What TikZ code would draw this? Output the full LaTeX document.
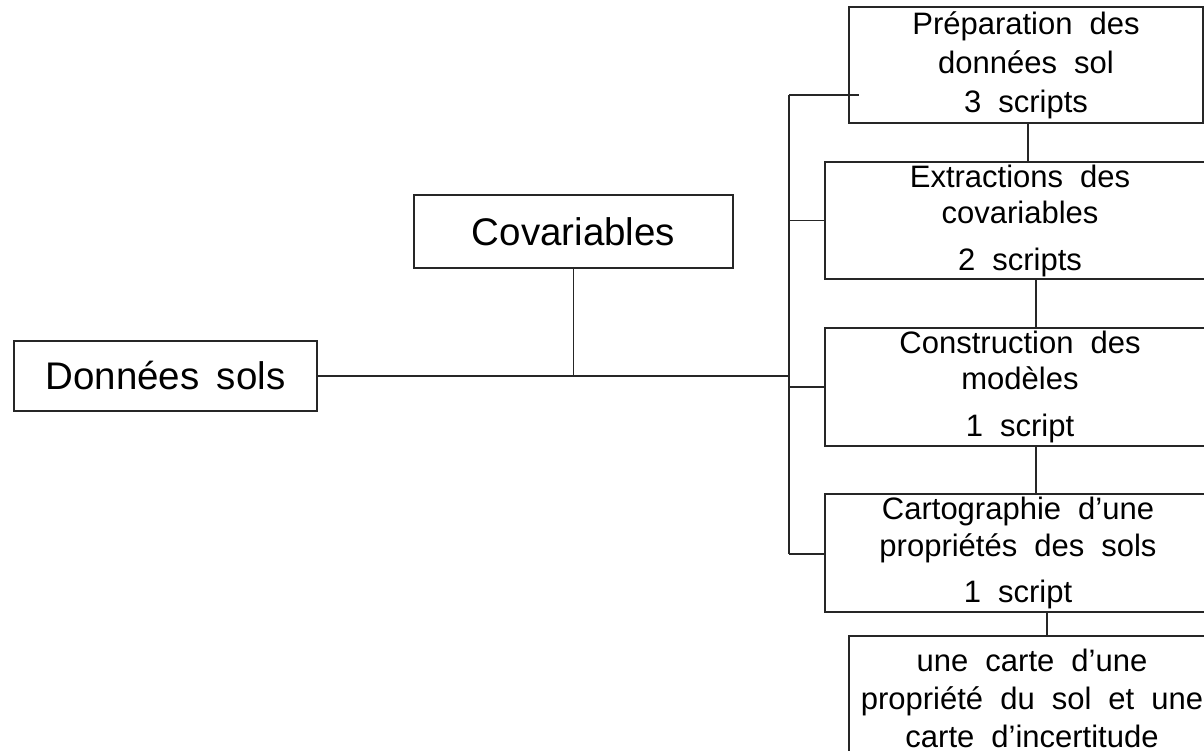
\documentclass[tikz,border=0pt]{standalone}
\usepackage{fontspec}
\setmainfont{Liberation Sans}
\newcommand\bigtxt{\fontsize{38.5}{44}\selectfont\spaceskip=0.45em plus 0.1em\relax}
\newcommand\smalltxt[1]{\fontsize{31}{#1}\selectfont\spaceskip=0.55em plus 0.1em\relax}
\tikzset{
  box/.style={draw=black!85, line width=1.6pt, rectangle, inner sep=0pt, align=center},
  conn/.style={draw=black!85, line width=1.6pt},
}
\begin{document}
\begin{tikzpicture}[x=1pt,y=-1pt]
\useasboundingbox (0,0) rectangle (1204,751);
\clip (0,0) rectangle (1204,751);
\fill[white] (0,0) rectangle (1204,751);

\node[box, minimum width=303pt, minimum height=70pt, font=\bigtxt] (don) at (165.5,376) {Données sols};
\node[box, minimum width=319pt, minimum height=73pt, font=\bigtxt] (cov) at (573.5,231.5) {Covariables};

\node[box, minimum width=354pt, minimum height=116pt, font={\smalltxt{39pt}}] (prep) at (1026,65) {Préparation des\\données sol\\3 scripts};
\node[box, minimum width=390pt, minimum height=117pt, font={\smalltxt{36pt}}] (extr) at (1020,220.5) {Extractions des\\covariables\\[11pt]2 scripts};
\node[box, minimum width=390pt, minimum height=118pt, font={\smalltxt{36pt}}] (cons) at (1020,387) {Construction des\\modèles\\[11pt]1 script};
\node[box, minimum width=386pt, minimum height=118pt, font={\smalltxt{37pt}}] (carto) at (1018,553) {Cartographie d’une\\propriétés des sols\\[9pt]1 script};
\node[box, minimum width=366pt, minimum height=124pt, font={\smalltxt{38pt}}] (fin) at (1032,698) {une carte d’une\\propriété du sol et une\\carte d’incertitude};

\coordinate (tA) at (789,95);
\coordinate (tB) at (789,554);
\coordinate (pin) at (859,95);

\draw[conn] (don.east) -- (don.east -| tA);
\draw[conn] (cov.south) -- (cov.south |- don.east);
\draw[conn] (tA) -- (tB);
\draw[conn] (tA) -- (pin);
\draw[conn] (tA |- extr.west) -- (extr.west);
\draw[conn] (tA |- cons.west) -- (cons.west);
\draw[conn] (tB) -- (tB -| carto.west);

\draw[conn] ([xshift=2pt]prep.south) -- ([xshift=2pt]prep.south |- extr.north);
\draw[conn] ([xshift=16pt]extr.south) -- ([xshift=16pt]extr.south |- cons.north);
\draw[conn] ([xshift=16pt]cons.south) -- ([xshift=16pt]cons.south |- carto.north);
\draw[conn] ([xshift=29pt]carto.south) -- ([xshift=29pt]carto.south |- fin.north);
\end{tikzpicture}
\end{document}
